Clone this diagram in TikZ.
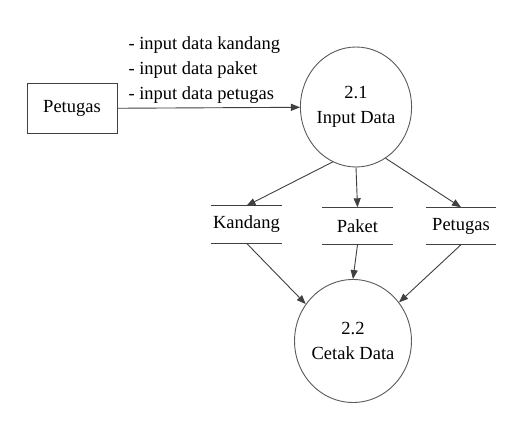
\documentclass[tikz,border=0pt]{standalone}
\usepackage{fontspec}
\setmainfont{Liberation Serif}
\usepackage{xcolor}
\usepackage{tikz}
\definecolor{darkgray}{RGB}{64, 64, 64}
\definecolor{linegray}{RGB}{90, 90, 90}
\usetikzlibrary{shapes.geometric, arrows.meta, positioning, calc}

\begin{document}
\begin{tikzpicture}[
        x=1pt, y=-1pt,
        flowarrow/.style={-{Triangle[length=9pt, width=7pt]}, line width=0.9pt, darkgray},
        entitynode/.style={rectangle, draw=darkgray, line width=0.9pt, minimum width=90pt, minimum height=50pt, font=\fontsize{18.5}{25}\selectfont},
        processnode/.style={ellipse, draw=linegray, line width=0.9pt, align=center, inner sep=0pt, font=\fontsize{18.5}{25}\selectfont},
        storenode/.style={rectangle, minimum width=70pt, minimum height=37pt, inner sep=0pt, font=\fontsize{18.5}{25}\selectfont,
            append after command={(\tikzlastnode.north west) edge[draw=darkgray, line width=0.9pt] (\tikzlastnode.north east)
                                  (\tikzlastnode.south west) edge[draw=darkgray, line width=0.9pt] (\tikzlastnode.south east)}}
    ]
        \useasboundingbox[fill=white] (0,0) rectangle (523,422);

        % External entity
        \node[entitynode] (petugas) at (72,108.5) {Petugas};

        % Processes
        \node[processnode, minimum width=100pt, minimum height=120pt] (p21) at (356,107) {2.1\\Input Data};
        \node[processnode, minimum width=99pt, minimum height=123pt] (p22) at (353,341) {2.2\\Cetak Data};

        % Data stores
        \node[storenode] (kandang) at (246.5,224.5) {Kandang};
        \node[storenode] (paket) at (357.5,226) {Paket};
        \node[storenode] (spetugas) at (461,226) {Petugas};

        % Arrows
        \draw[flowarrow] (petugas) -- node[pos=0.02, anchor=south west, align=left, inner sep=0pt, xshift=7pt, yshift=4pt, text=black, font=\fontsize{18.5}{25}\selectfont] (flowlbl) {- input data kandang\\- input data paket\\- input data petugas} (p21);
        \draw[flowarrow] (p21.247) -- (kandang.north);
        \draw[flowarrow] (p21.270) -- (paket.north);
        \draw[flowarrow] (p21.300) -- (spetugas.north);
        \draw[flowarrow] (kandang.south) -- (p22.142);
        \draw[flowarrow] (paket.south) -- (p22.90);
        \draw[flowarrow] (spetugas.south) -- (p22.40);
    \end{tikzpicture}
\end{document}
